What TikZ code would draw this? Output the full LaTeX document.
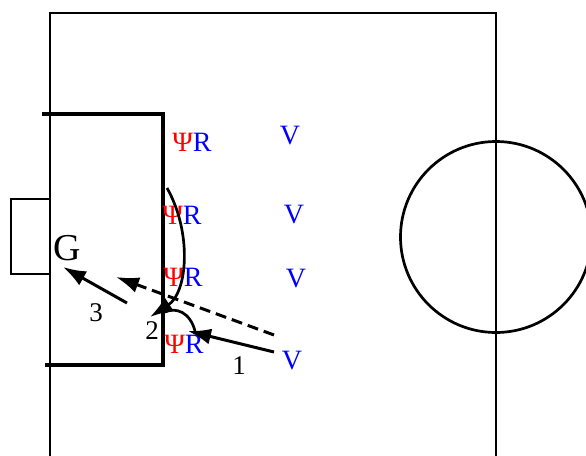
\documentclass[tikz,border=0pt]{standalone}
\usepackage{fontspec}
\setmainfont{Liberation Serif}
\usetikzlibrary{arrows.meta}
\begin{document}
\begin{tikzpicture}[x=1pt,y=-1pt,
  fieldline/.style={line width=2.7pt},
  boxline/.style={line width=3.2pt},
  move/.style={line width=3pt,-{Latex[length=23pt,width=16pt]}},
  lbl/.style={anchor=base,inner sep=0pt,font=\fontsize{27}{27}\selectfont},
  plr/.style={anchor=base,inner sep=0pt,font=\fontsize{28}{28}\selectfont,text=blue},
]
\useasboundingbox (0,0) rectangle (586,455);
% field
\draw[fieldline] (50,470) -- (50,13) -- (496,13) -- (496,470);
\draw[fieldline] (496,237) circle[radius=95.5];
% penalty box
\draw[boxline] (42,114) -- (163,114) -- (163,365) -- (45,365);
% goal
\draw[fieldline] (50,199) -- (11,199) -- (11,274) -- (50,274);
% players
\node[plr] (r1) at (192,151) {\textcolor{red}{Ψ}R};
\node[plr] (r2) at (182,224) {\textcolor{red}{Ψ}R};
\node[plr] (r3) at (183,286) {\textcolor{red}{Ψ}R};
\node[plr] (r4) at (184,353) {\textcolor{red}{Ψ}R};
\node[plr] (v1) at (290,144) {V};
\node[plr] (v2) at (294,223) {V};
\node[plr] (v3) at (296,287) {V};
\node[plr] (v4) at (292,369) {V};
\node[anchor=base,inner sep=0pt,font=\fontsize{38}{38}\selectfont] (g) at (67,260) {G};
% labels
\node[lbl] (l3) at (96,321) {3};
\node[lbl] (l2) at (152,339) {2};
\node[lbl] (l1) at (239,374) {1};
% coordinates
\coordinate (a1s) at (274,352);
\coordinate (a1e) at (188,331);
\coordinate (ds) at (274,335);
\coordinate (de) at (116,277);
\coordinate (a3s) at (127,303);
\coordinate (a3e) at (63,267);
\coordinate (cs) at (167,188);
\coordinate (ce) at (150,317);
\coordinate (ss) at (195,331);
\coordinate (se) at (165,312);
% moves
\draw[move] (a1s) -- (a1e);
\draw[move,dash pattern=on 11pt off 6pt] (ds) -- (de);
\draw[move] (a3s) -- (a3e);
\draw[line width=2.7pt,-{Latex[length=23pt,width=16pt]}] (cs) .. controls (192,232) and (188,292) .. (ce);
\draw[line width=2.7pt] (ss) .. controls (190,312) and (176,307) .. (se);
\end{tikzpicture}
\end{document}
